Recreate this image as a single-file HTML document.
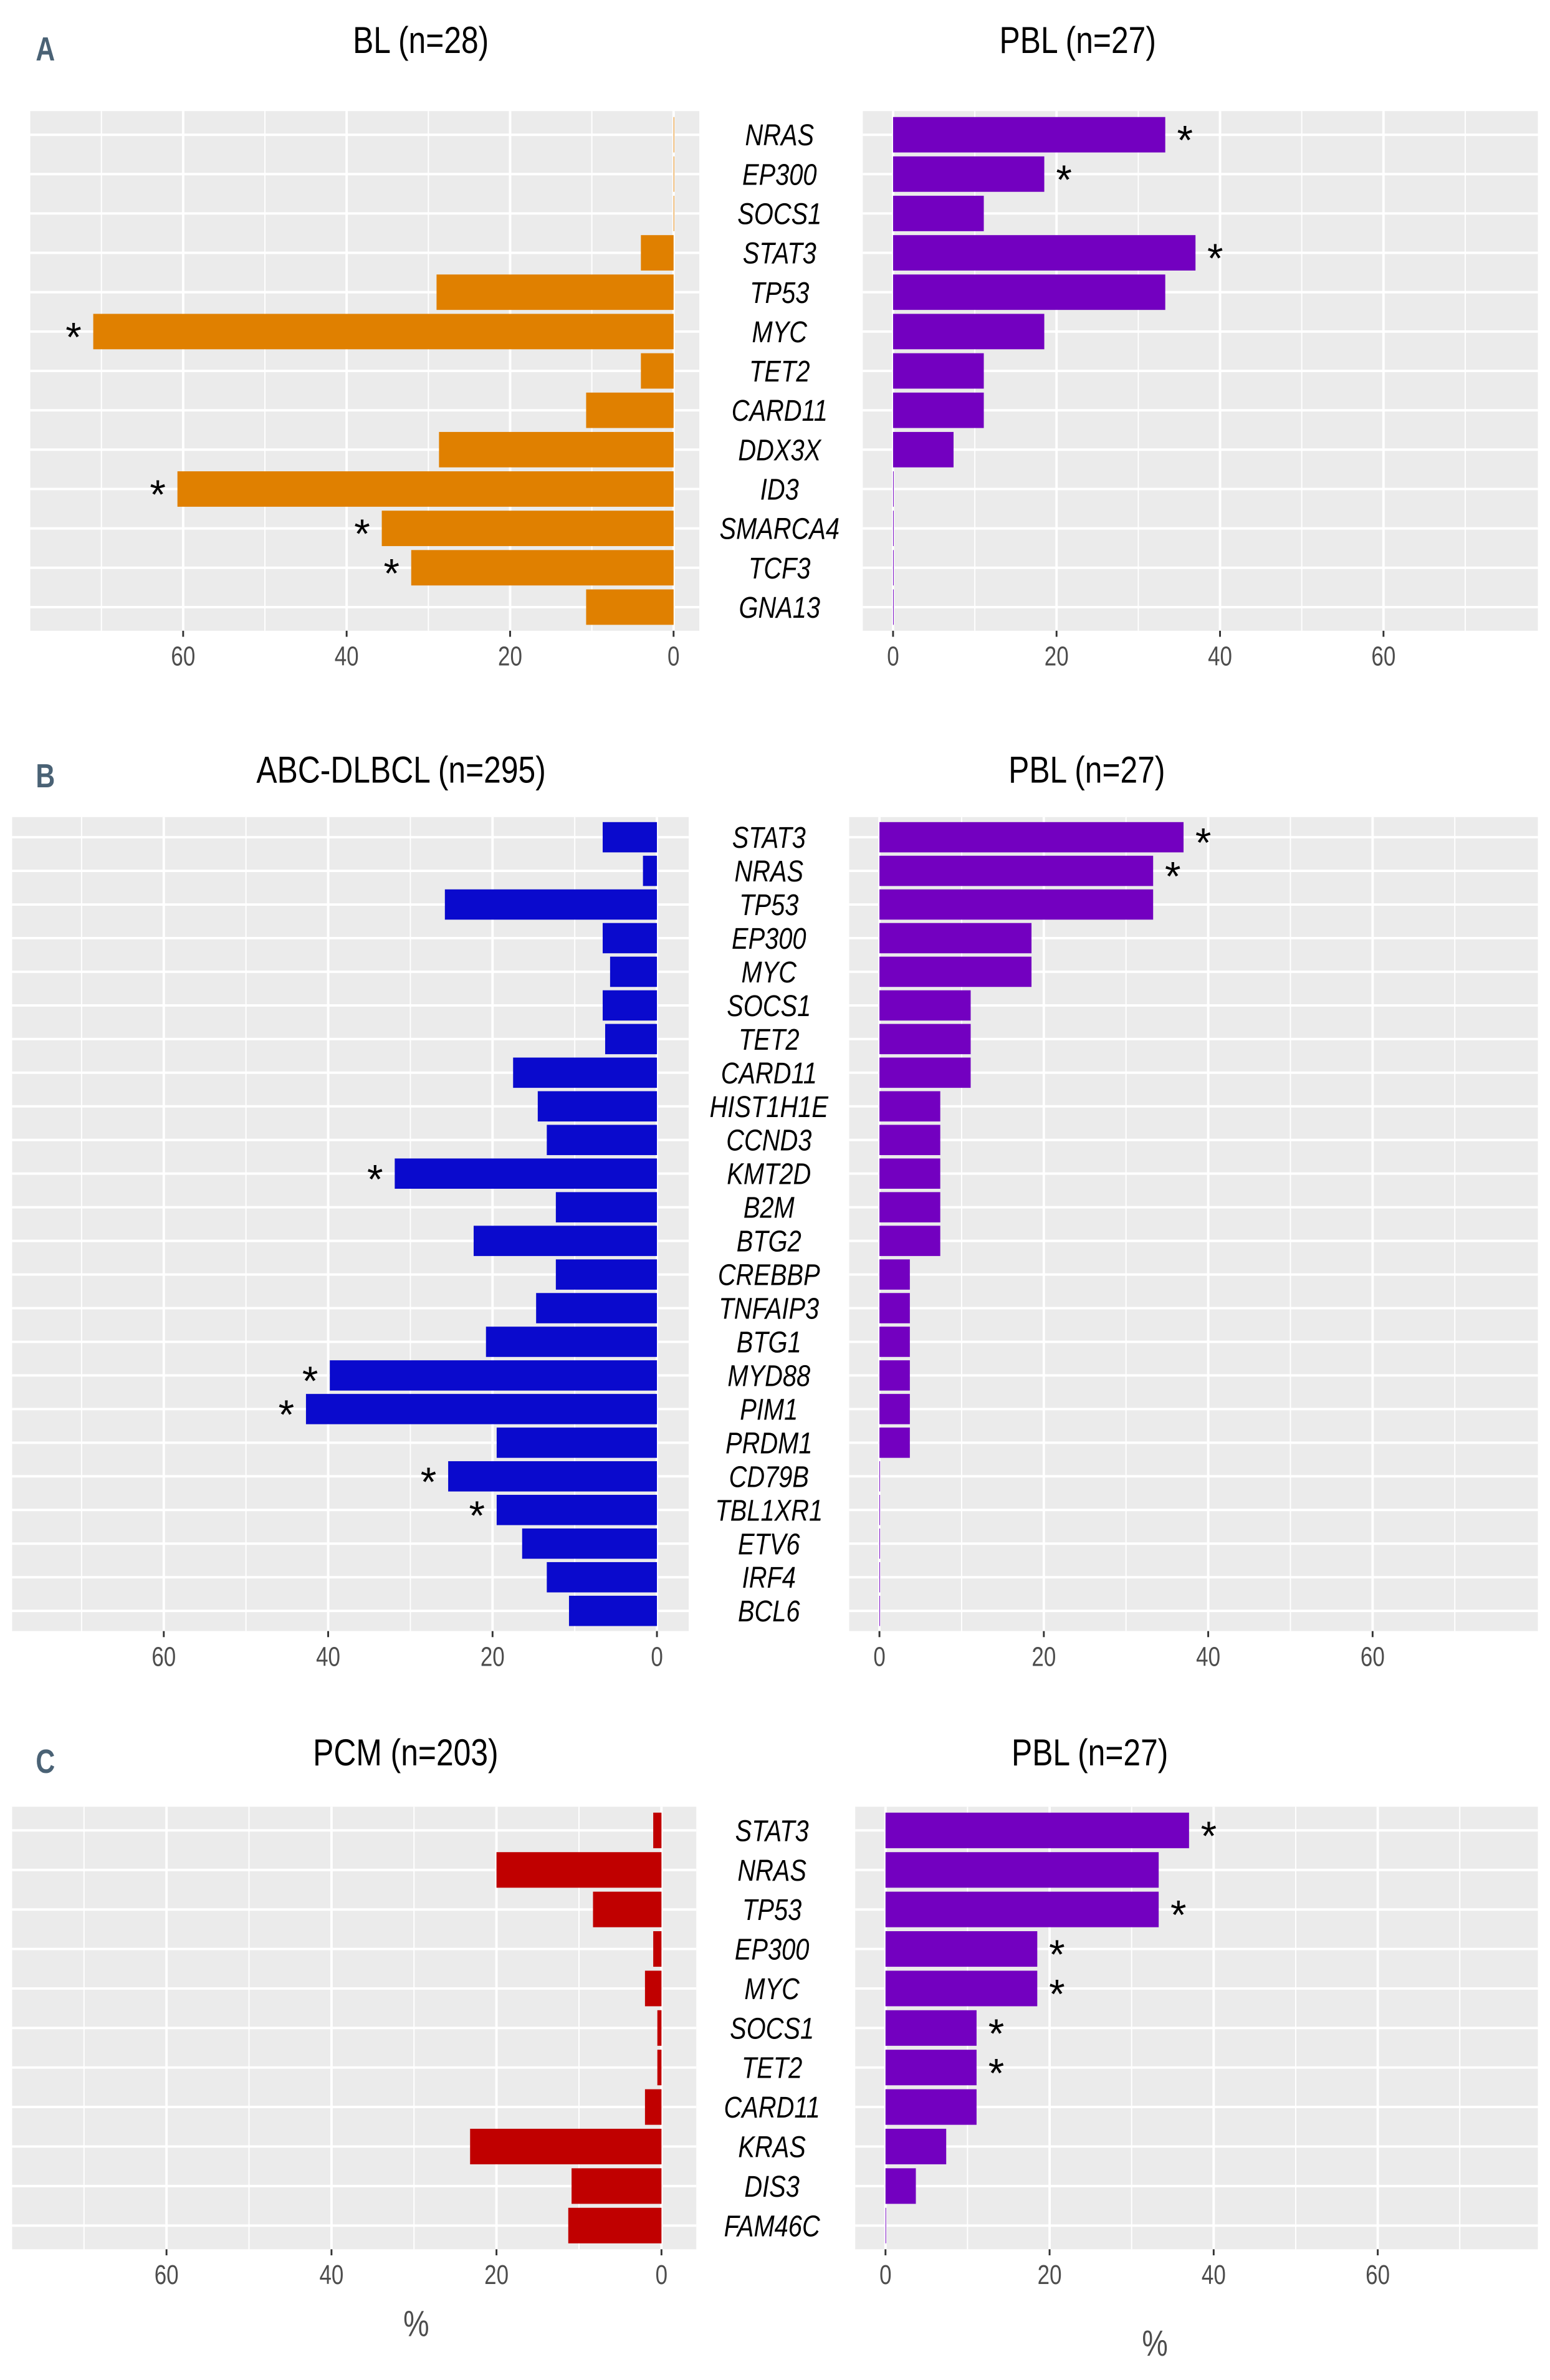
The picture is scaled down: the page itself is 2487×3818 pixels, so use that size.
<!DOCTYPE html>
<html><head><meta charset="utf-8"><style>
html,body{margin:0;padding:0;background:#fff;}
svg{display:block;}
text{font-family:"Liberation Sans Narrow","Liberation Sans",sans-serif;}
</style></head><body>
<svg id="chart" width="2487" height="3818" viewBox="0 0 1024 1572" preserveAspectRatio="none" xmlns="http://www.w3.org/2000/svg"></svg>
<script>
// ---- Panel A data ----
const genesA = ["NRAS","EP300","SOCS1","STAT3","TP53","MYC","TET2","CARD11","DDX3X","ID3","SMARCA4","TCF3","GNA13"];
const blValues = [0,0,0,4,29,71,4,10.7,28.7,60.7,35.7,32.1,10.7];
const blStars = [0,0,0,0,0,1,0,0,0,1,1,1,0];
const pblValuesA = [33.3,18.5,11.1,37,33.3,18.5,11.1,11.1,7.4,0,0,0,0];
const pblStarsA = [1,1,0,1,0,0,0,0,0,0,0,0,0];
// ---- Panel B data ----
const genesB = ["STAT3","NRAS","TP53","EP300","MYC","SOCS1","TET2","CARD11","HIST1H1E","CCND3","KMT2D","B2M","BTG2","CREBBP","TNFAIP3","BTG1","MYD88","PIM1","PRDM1","CD79B","TBL1XR1","ETV6","IRF4","BCL6"];
const abcValues = [6.6,1.7,25.8,6.6,5.7,6.6,6.3,17.5,14.5,13.4,31.9,12.3,22.3,12.3,14.7,20.8,39.8,42.7,19.5,25.4,19.5,16.4,13.4,10.7];
const abcStars = [0,0,0,0,0,0,0,0,0,0,1,0,0,0,0,0,1,1,0,1,1,0,0,0];
const pblValuesB = [37,33.3,33.3,18.5,18.5,11.1,11.1,11.1,7.4,7.4,7.4,7.4,7.4,3.7,3.7,3.7,3.7,3.7,3.7,0,0,0,0,0];
const pblStarsB = [1,1,0,0,0,0,0,0,0,0,0,0,0,0,0,0,0,0,0,0,0,0,0,0];
// ---- Panel C data ----
const genesC = ["STAT3","NRAS","TP53","EP300","MYC","SOCS1","TET2","CARD11","KRAS","DIS3","FAM46C"];
const pcmValues = [1,20,8.3,1,2,0.5,0.5,2,23.2,10.9,11.3];
const pcmStars = [0,0,0,0,0,0,0,0,0,0,0];
const pblValuesC = [37,33.3,33.3,18.5,18.5,11.1,11.1,11.1,7.4,3.7,0];
const pblStarsC = [1,0,1,1,1,1,1,0,0,0,0];
const tickLabels = [0,20,40,60];
const minorTicks = [10,30,50,70];

const NS = "http://www.w3.org/2000/svg";
const svg = document.getElementById("chart");
function el(tag, attrs, parent){ const e=document.createElementNS(NS,tag); for(const k in attrs) e.setAttribute(k,attrs[k]); (parent||svg).appendChild(e); return e; }
// condensed text: placed via transform, horizontally squeezed
function ctxt(s, x, y, attrs, parent, sx){
  const a = Object.assign({}, attrs);
  a.transform = "translate("+x+","+y+") scale("+(sx||0.8)+",1)";
  a.x = 0; a.y = 0;
  const t = el("text", a, parent); t.textContent = s; return t;
}

function drawHalf(cfg){
  const g = el("g",{});
  
  
  const n = cfg.genes.length;
  const step = (cfg.lastY - cfg.firstY)/(n-1);
  const top = cfg.firstY - 0.6*step, bottom = cfg.lastY + 0.6*step;
  const xs = v => cfg.dir>0 ? cfg.zero + v*cfg.scale : cfg.zero - v*cfg.scale;
  const yc = i => cfg.firstY + i*step;
  const bg = el("rect",{x:cfg.x0,y:top,width:cfg.x1-cfg.x0,height:bottom-top,fill:"#EBEBEB"},g);
  
  
  minorTicks.forEach(v=>{ const x=xs(v); if(x>cfg.x0&&x<cfg.x1) el("line",{x1:x,x2:x,y1:top,y2:bottom,stroke:"#fff","stroke-width":0.8},g); });
  tickLabels.forEach(v=>{ const x=xs(v); el("line",{x1:x,x2:x,y1:top,y2:bottom,stroke:"#fff","stroke-width":1.6},g); });
  for(let i=0;i<n;i++) el("line",{x1:cfg.x0,x2:cfg.x1,y1:yc(i),y2:yc(i),stroke:"#fff","stroke-width":1.6},g);
  const bh = step*0.9;
  for(let i=0;i<n;i++){
    const v = cfg.values[i];
    const a = xs(0), b = xs(v);
    const r = el("rect",{x:Math.min(a,b),y:yc(i)-bh/2,width:Math.max(Math.abs(b-a),0.4),height:bh,fill:cfg.color},g);
    
    
    if(cfg.stars[i]){
      const sx = cfg.dir>0 ? b+13 : b-13;
      const s = el("text",{x:sx,y:yc(i)+13,"text-anchor":"middle","font-size":27,fill:"#000"},g);
      s.textContent = "*";
      
      
    }
  }
  tickLabels.forEach(v=>{
    const x=xs(v);
    el("line",{x1:x,x2:x,y1:bottom,y2:bottom+4,stroke:"#333","stroke-width":1.2},g);
    const t = ctxt(String(v),x,bottom+23,{"text-anchor":"middle","font-size":18,fill:"#4d4d4d"},g,0.8);
    
    
  });
  const tt = ctxt(cfg.title,cfg.titleX,cfg.titleY,{"text-anchor":"middle","font-size":25,fill:"#000"},g,0.82);
  
  
}

function drawGenes(genes, firstY, lastY, x){
  const n=genes.length, step=(lastY-firstY)/(n-1);
  genes.forEach((gname,i)=>{
    const t = ctxt(gname,x,firstY+i*step+7,{"text-anchor":"middle","font-size":20,"font-style":"italic",fill:"#000"},null,0.82);
    
    
  });
}
function panelLetter(s,x,y){
  const t = ctxt(s,x,y,{"text-anchor":"middle","font-size":22,"font-weight":"bold",fill:"#4a6275"},null,0.8);
  
  
}

// Panel A
panelLetter("A",30,40);
drawHalf({name:"bl-chart",genes:genesA,values:blValues,stars:blStars,color:"#E08000",dir:-1,zero:445,scale:5.4,x0:20,x1:462,firstY:89,lastY:401,title:"BL (n=28)",titleX:278,titleY:35});
drawHalf({name:"pbl-chart-a",genes:genesA,values:pblValuesA,stars:pblStarsA,color:"#7300C0",dir:1,zero:590,scale:5.4,x0:570,x1:1016,firstY:89,lastY:401,title:"PBL (n=27)",titleX:712,titleY:35});
drawGenes(genesA,89,401,515);

// Panel B
panelLetter("B",30,520);
drawHalf({name:"abc-dlbcl-chart",genes:genesB,values:abcValues,stars:abcStars,color:"#0A0ACD",dir:-1,zero:434,scale:5.43,x0:8,x1:455,firstY:553,lastY:1064,title:"ABC-DLBCL (n=295)",titleX:265,titleY:517});
drawHalf({name:"pbl-chart-b",genes:genesB,values:pblValuesB,stars:pblStarsB,color:"#7300C0",dir:1,zero:581,scale:5.43,x0:561,x1:1016,firstY:553,lastY:1064,title:"PBL (n=27)",titleX:718,titleY:517});
drawGenes(genesB,553,1064,508);

// Panel C
panelLetter("C",30,1171);
drawHalf({name:"pcm-chart",genes:genesC,values:pcmValues,stars:pcmStars,color:"#C00000",dir:-1,zero:437,scale:5.45,x0:8,x1:460,firstY:1209,lastY:1470,title:"PCM (n=203)",titleX:268,titleY:1166});
drawHalf({name:"pbl-chart-c",genes:genesC,values:pblValuesC,stars:pblStarsC,color:"#7300C0",dir:1,zero:585,scale:5.42,x0:565,x1:1016,firstY:1209,lastY:1470,title:"PBL (n=27)",titleX:720,titleY:1166});
drawGenes(genesC,1209,1470,510);
const p1 = ctxt("%",275,1543,{"text-anchor":"middle","font-size":24,fill:"#4d4d4d"},null,0.8);


const p2 = ctxt("%",763,1556,{"text-anchor":"middle","font-size":24,fill:"#4d4d4d"},null,0.8);


</script>
</body></html>
